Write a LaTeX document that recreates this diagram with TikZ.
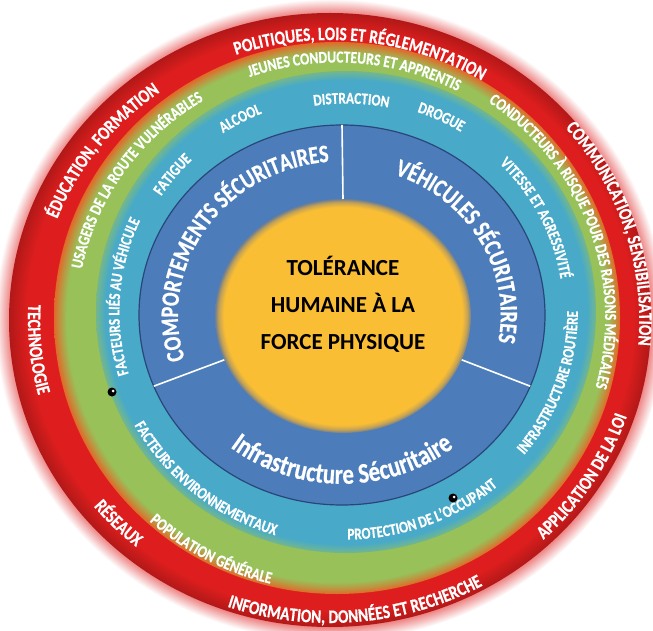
\documentclass[tikz,border=0pt]{standalone}
\usepackage{fontspec}
\setmainfont{Carlito}
\newfontfamily\ringfont{Carlito Bold}[FakeStretch=0.81, FakeBold=0.6]
\usetikzlibrary{decorations.text,calc}

\definecolor{ringred}{RGB}{222,30,30}
\definecolor{ringorange}{RGB}{225,105,40}
\definecolor{ringgreen}{RGB}{152,193,90}
\definecolor{ringcyan}{RGB}{72,170,200}
\definecolor{ringblue}{RGB}{76,125,186}
\definecolor{bluerim}{RGB}{40,70,120}
\definecolor{coregold}{RGB}{250,190,52}

\pgfdeclareradialshading{glowshade}{\pgfpointorigin}{color(0bp)=(ringred); color(23.9bp)=(ringred!55!white); color(25bp)=(white); color(50bp)=(white)}
\pgfdeclareradialshading{redshade}{\pgfpointorigin}{color(0bp)=(ringred); color(23.6bp)=(ringred); color(25bp)=(ringred!80!black); color(50bp)=(ringred!80!black)}
\pgfdeclareradialshading{greenshade}{\pgfpointorigin}{color(0bp)=(ringgreen); color(23.9bp)=(ringgreen); color(24.5bp)=(ringgreen!50!ringorange); color(25bp)=(ringorange); color(50bp)=(ringorange)}
\pgfdeclareradialshading{cyanshade}{\pgfpointorigin}{color(0bp)=(ringcyan); color(24.1bp)=(ringcyan); color(25bp)=(ringcyan!45!ringgreen); color(50bp)=(ringcyan!45!ringgreen)}
\pgfdeclareradialshading{goldshade}{\pgfpointorigin}{color(0bp)=(coregold); color(23.3bp)=(coregold); color(24.3bp)=(coregold!55!gray); color(25bp)=(gray!70!ringblue); color(50bp)=(gray!70!ringblue)}

\newcommand\outerfont{\ringfont\fontsize{19}{22}\selectfont}
\newcommand\middlefont{\ringfont\fontsize{16.8}{20}\selectfont}
\newcommand\innerfont{\ringfont\fontsize{16.3}{19}\selectfont}
\newcommand\sectorfont{\ringfont\fontsize{25}{28}\selectfont}
\newcommand\infrafont{\ringfont\fontsize{28.2}{32}\selectfont}

\tikzset{
  ringlabel/.style={decorate, decoration={text along path, text={#1}, text align=center, text color=white}},
  divider/.style={white, line width=1.6pt},
}

\begin{document}
\begin{tikzpicture}[x=1pt,y=1pt]
\useasboundingbox (0,0) rectangle (653,630);
\coordinate (red) at (330,310);
\coordinate (green) at (337,312);
\coordinate (cyan) at (346,318);
\coordinate (blue) at (342,315);
\coordinate (gold) at (343,314);

% rings
\shade[shading=glowshade] (red) ellipse [x radius=335pt, y radius=321pt];
\shade[shading=redshade] (red) ellipse [x radius=321pt, y radius=307pt];
\shade[shading=greenshade] (green) ellipse [x radius=283pt, y radius=276pt];
\shade[shading=cyanshade] (cyan) ellipse [x radius=250pt, y radius=241pt];
\filldraw[fill=ringblue, draw=bluerim, line width=1.2pt] (blue) ellipse [x radius=203pt, y radius=190pt];
\shade[shading=goldshade] (gold) ellipse [x radius=128pt, y radius=117pt];

% sector lines
\draw[divider] ($(gold)+(90:128pt and 117pt)$) -- ($(blue)+(90:203pt and 190pt)$);
\draw[divider] ($(gold)+(202:128pt and 117pt)$) -- ($(blue)+(202:203pt and 190pt)$);
\draw[divider] ($(gold)+(-22:128pt and 117pt)$) -- ($(blue)+(-22:203pt and 190pt)$);

% markers
\fill[black] (112,238) circle (4.5pt);
\fill[white] (113,239) circle (1.5pt);
\fill[black] (453,132) circle (4.5pt);
\fill[white] (454,133) circle (1.5pt);

\node[font=\bfseries\fontsize{23}{37}\selectfont, align=center] (core) at (343,326) {TOLÉRANCE\\HUMAINE À LA\\FORCE PHYSIQUE};

% outer ring
\path[ringlabel={|\outerfont|ÉDUCATION, FORMATION}] (red) ++(177.5:292.5pt and 280pt) arc [start angle=177.5, end angle=107.5, x radius=292.5pt, y radius=280pt];
\path[ringlabel={|\outerfont|POLITIQUES, LOIS ET RÉGLEMENTATION}] (red) ++(123.7:292.5pt and 280pt) arc [start angle=123.7, end angle=43.7, x radius=292.5pt, y radius=280pt];
\path[ringlabel={|\outerfont|COMMUNICATION, SENSIBILISATION}] (red) ++(57.6:309.2pt and 296pt) arc [start angle=57.6, end angle=-22.4, x radius=309.2pt, y radius=296pt];
\path[ringlabel={|\outerfont|APPLICATION DE LA LOI}] (red) ++(-67.6:313.5pt and 300pt) arc [start angle=-67.6, end angle=2.4, x radius=313.5pt, y radius=300pt];
\path[ringlabel={|\outerfont|INFORMATION, DONNÉES ET RECHERCHE}] (red) ++(235:316.7pt and 303pt) arc [start angle=235, end angle=315, x radius=316.7pt, y radius=303pt];
\path[ringlabel={|\outerfont|RÉSEAUX}] (red) ++(205:306.3pt and 293pt) arc [start angle=205, end angle=245, x radius=306.3pt, y radius=293pt];
\path[ringlabel={|\outerfont|TECHNOLOGIE}] (red) ++(166:302.1pt and 289pt) arc [start angle=166, end angle=206, x radius=302.1pt, y radius=289pt];

% green ring
\path[ringlabel={|\middlefont|JEUNES CONDUCTEURS ET APPRENTIS}] (green) ++(126:261.9pt and 255.5pt) arc [start angle=126, end angle=46, x radius=261.9pt, y radius=255.5pt];
\path[ringlabel={|\middlefont|CONDUCTEURS À RISQUE POUR DES RAISONS MÉDICALES}] (green) ++(70:268.1pt and 261.5pt) arc [start angle=70, end angle=-30, x radius=268.1pt, y radius=261.5pt];
\path[ringlabel={|\middlefont|USAGERS DE LA ROUTE VULNÉRABLES}] (green) ++(180:259.9pt and 253.5pt) arc [start angle=180, end angle=110, x radius=259.9pt, y radius=253.5pt];
\path[ringlabel={|\middlefont|POPULATION GÉNÉRALE}] (green) ++(212:280.3pt and 273.5pt) arc [start angle=212, end angle=272, x radius=280.3pt, y radius=273.5pt];

% cyan ring
\path[ringlabel={|\innerfont|DISTRACTION}] (cyan) ++(108.6:216.2pt and 208.5pt) arc [start angle=108.6, end angle=68.6, x radius=216.2pt, y radius=208.5pt];
\path[ringlabel={|\innerfont|DROGUE}] (cyan) ++(79.7:219.3pt and 211.5pt) arc [start angle=79.7, end angle=49.7, x radius=219.3pt, y radius=211.5pt];
\path[ringlabel={|\innerfont|ALCOOL}] (cyan) ++(132.9:222.4pt and 214.5pt) arc [start angle=132.9, end angle=102.9, x radius=222.4pt, y radius=214.5pt];
\path[ringlabel={|\innerfont|FATIGUE}] (cyan) ++(155.7:220.4pt and 212.5pt) arc [start angle=155.7, end angle=125.7, x radius=220.4pt, y radius=212.5pt];
\path[ringlabel={|\innerfont|FACTEURS LIÉS AU VÉHICULE}] (cyan) ++(205.9:226.6pt and 218.5pt) arc [start angle=205.9, end angle=145.9, x radius=226.6pt, y radius=218.5pt];
\path[ringlabel={|\innerfont|VITESSE ET AGRESSIVITÉ}] (cyan) ++(52:217.3pt and 209.5pt) arc [start angle=52, end angle=2, x radius=217.3pt, y radius=209.5pt];
\path[ringlabel={|\innerfont|INFRASTRUCTURE ROUTIÈRE}] (cyan) ++(-49.7:231.8pt and 223.5pt) arc [start angle=-49.7, end angle=10.3, x radius=231.8pt, y radius=223.5pt];
\path[ringlabel={|\innerfont|PROTECTION DE L’OCCUPANT}] (cyan) ++(-99.7:235.9pt and 227.5pt) arc [start angle=-99.7, end angle=-39.7, x radius=235.9pt, y radius=227.5pt];
\path[ringlabel={|\innerfont|FACTEURS ENVIRONNEMENTAUX}] (cyan) ++(195.8:242.1pt and 233.5pt) arc [start angle=195.8, end angle=265.8, x radius=242.1pt, y radius=233.5pt];

% sectors
\path[ringlabel={|\sectorfont|COMPORTEMENTS SÉCURITAIRES}] (blue) ++(205.8:164pt and 153.8pt) arc [start angle=205.8, end angle=85.8, x radius=164pt, y radius=153.8pt];
\path[ringlabel={|\sectorfont|VÉHICULES SÉCURITAIRES}] (blue) ++(75:158.7pt and 148.8pt) arc [start angle=75, end angle=-15, x radius=158.7pt, y radius=148.8pt];
\path[ringlabel={|\infrafont|Infrastructure Sécuritaire}] (blue) ++(220:180pt and 168.8pt) arc [start angle=220, end angle=320, x radius=180pt, y radius=168.8pt];
\end{tikzpicture}
\end{document}
